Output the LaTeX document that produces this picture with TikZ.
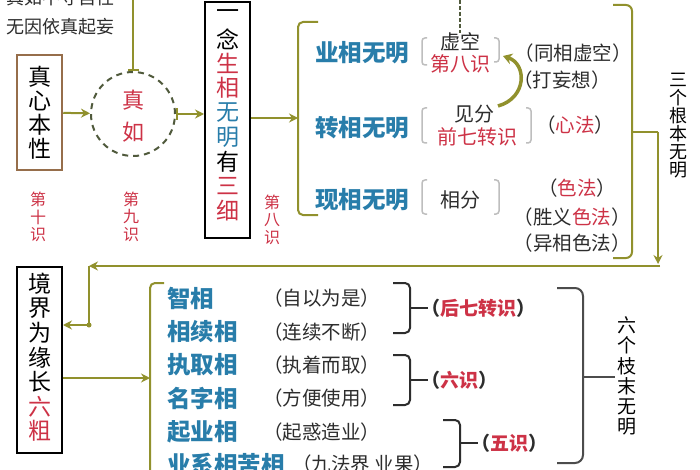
\documentclass[tikz,border=0pt]{standalone}
\usepackage{fontspec}
\setmainfont{Noto Sans CJK SC}
\usetikzlibrary{arrows.meta}
\definecolor{olv}{RGB}{145,145,45}
\definecolor{cred}{RGB}{205,50,70}
\definecolor{cblue}{RGB}{40,125,170}
\definecolor{dgray}{RGB}{45,45,45}
\definecolor{lgray}{RGB}{190,190,190}
\definecolor{brn}{RGB}{150,110,75}
\definecolor{cdash}{RGB}{80,90,60}
\newcommand{\R}[1]{\textcolor{cred}{#1}}
\newcommand{\B}[1]{\textcolor{cblue}{#1}}
\newlength\vsp
\newcommand{\vc}[1]{\hbox to 1em{\hss\vbox to \vsp{\vss\hbox{#1}\vss}\hss}}
\newcommand{\vs}[2]{\vsp=#1\relax\vbox{\offinterlineskip #2}}
\tikzset{
  big/.style={font=\fontsize{23}{24.4}\selectfont, inner sep=0pt, text=black},
  lbl/.style={font=\fontsize{23.5}{25}\selectfont\bfseries, text=cblue, inner sep=0pt},
  note/.style={font=\fontsize{19.5}{21}\selectfont, text=dgray, inner sep=0pt},
  mid/.style={font=\fontsize{20}{22}\selectfont, text=dgray, inner sep=0pt},
  shi/.style={font=\fontsize{16}{18}\selectfont, text=cred, inner sep=0pt},
  vt/.style={text=black, inner sep=0pt},
  oline/.style={draw=olv, line width=2pt},
  arr/.style={oline, -{Stealth[length=9pt,width=9pt]}},
  gbr/.style={draw=lgray, line width=1.5pt, rounded corners=3pt},
  kbr/.style={draw=dgray, line width=2pt, rounded corners=5pt},
  bx/.style={draw=black, line width=2pt, inner sep=0pt, minimum width=45pt},
}
\begin{document}
\begin{tikzpicture}[x=1pt,y=-1pt]
\useasboundingbox (0,0) rectangle (700,470);
\clip (0,0) rectangle (700,470);
\fill[white] (0,0) rectangle (700,470);

% top-left text
\node[note, font=\fontsize{18}{20}\selectfont, anchor=west] (t0) at (6,-2) {真如不守自性};
\node[note, font=\fontsize{18}{20}\selectfont, anchor=west] (t1) at (6,27) {无因依真起妄};

% left column
\node[draw=brn, line width=2.5pt, minimum width=45pt, minimum height=115pt, inner sep=0pt] (zx) at (39.5,112.5) {};
\node[big] (zxt) at (39.5,112.5) {\vs{24pt}{\vc{真}\vc{心}\vc{本}\vc{性}}};
\node[draw=cdash, line width=2pt, dash pattern=on 6pt off 5pt, circle, minimum size=84pt, inner sep=0pt] (zr) at (133,114) {};
\node[big, text=cred, font=\fontsize{22}{32}\selectfont] (zrt) at (133,116) {\vs{32pt}{\vc{真}\vc{如}}};
\coordinate (tp1) at (133,0);
\draw[oline, line width=1.8pt, -{Bar[width=11pt]}] (tp1) -- (zr.north);

\node[shi] (s10) at (38,217) {\vs{18pt}{\vc{第}\vc{十}\vc{识}}};
\node[shi] (s9) at (131,217) {\vs{18pt}{\vc{第}\vc{九}\vc{识}}};
\node[shi] (s8) at (272,220) {\vs{18pt}{\vc{第}\vc{八}\vc{识}}};

\node[bx, minimum height=236pt] (yn) at (227.5,120) {};
\node[big] (ynt) at (227.5,112.5) {\vs{24.4pt}{\vc{一}\vc{念}\vc{\R{生}}\vc{\R{相}}\vc{\B{无}}\vc{\B{明}}\vc{有}\vc{\R{三}}\vc{\R{细}}}};

\draw[arr] (zx) -- (zr);
\draw[oline, {Bar[width=12pt]}-{Stealth[length=9pt,width=9pt]}] (zr.east) -- (zr.east -| yn.west);

% first bracket
\coordinate (b1) at (298,118);
\draw[oline, rounded corners=5pt] (318,22) -- (298,22) -- (298,215) -- (318,215);
\draw[arr] (yn.east |- b1) -- (b1);

\node[lbl] (l1) at (362,53) {业相无明};
\node[lbl] (l2) at (362,128) {转相无明};
\node[lbl] (l3) at (362,200) {现相无明};

% gray brackets
\draw[gbr] (427,38) -- (422,38) -- (422,65) -- (427,65);
\draw[gbr] (494,38) -- (499,38) -- (499,62) -- (494,62);
\draw[gbr] (427,108) -- (422,108) -- (422,143) -- (427,143);
\draw[gbr] (526,108) -- (531,108) -- (531,143) -- (526,143);
\draw[gbr] (427,180) -- (422,180) -- (422,214) -- (427,214);
\draw[gbr] (494,180) -- (499,180) -- (499,214) -- (494,214);

\node[mid] (xk) at (460,42) {虚空};
\node[mid, text=cred] (d8) at (460,64) {第八识};
\node[mid] (jf) at (474,114) {见分};
\node[mid, text=cred] (q7) at (477,137) {前七转识};
\node[mid] (xf) at (460,200) {相分};

\coordinate (tp2) at (460,0);
\draw[draw=cdash, line width=2.5pt, dash pattern=on 4pt off 2pt] (tp2) -- (xk.north);

\coordinate (ca) at (498,106);
\coordinate (cb) at (503,56);
\draw[draw=olv, line width=3.5pt, -{Stealth[length=9pt,width=11pt]}] (ca) .. controls (527,98) and (527,64) .. (cb);

% right column notes
\node[note] (r1) at (573,53) {（同相虚空）};
\node[note] (r2) at (562,80) {（打妄想）};
\node[note] (r3) at (575,125) {（\R{心法}）};
\node[note] (r4) at (577,188) {（\R{色法}）};
\node[note] (r5) at (572,217) {（胜义\R{色法}）};
\node[note] (r6) at (572,243) {（异相色法）};

% right bracket
\draw[oline, rounded corners=6pt] (613,5) -- (632,5) -- (632,258) -- (613,258);
\coordinate (rb) at (658,132);
\coordinate (rc) at (658,264);
\draw[oline] (632,132) -- (rb);
\draw[arr] (rb) -- (rc);
\node[vt, font=\fontsize{18}{18}\selectfont] (sg) at (678,125) {\vs{18pt}{\vc{三}\vc{个}\vc{根}\vc{本}\vc{无}\vc{明}}};

% return line
\node[bx, minimum height=186pt] (jj) at (39.5,360) {};
\node[big] (jjt) at (40,357.5) {\vs{24.5pt}{\vc{境}\vc{界}\vc{为}\vc{缘}\vc{长}\vc{\R{六}}\vc{\R{粗}}}};
\coordinate (rd) at (660,266);
\coordinate (re) at (89,266);
\coordinate (rf) at (89,325);
\draw[arr] (rd) -- (re);
\draw[arr] (re) -- (rf) -- (rf -| jj.east);
\fill[olv] (rf) circle (2.5pt);

% bottom bracket
\coordinate (b2) at (150,378);
\draw[oline, rounded corners=5pt] (164,283) -- (150,283) -- (150,480);
\draw[arr] (b2 -| jj.east) -- (b2);

\node[lbl, anchor=west] (a1) at (167,298) {智相};
\node[lbl, anchor=west] (a2) at (167,332) {相续相};
\node[lbl, anchor=west] (a3) at (167,365) {执取相};
\node[lbl, anchor=west] (a4) at (167,398) {名字相};
\node[lbl, anchor=west] (a5) at (167,432) {起业相};
\node[lbl, anchor=west] (a6) at (167,464) {业系相苦相};

\node[note, anchor=west] (p1) at (263,298) {（自以为是）};
\node[note, anchor=west] (p2) at (263,332) {（连续不断）};
\node[note, anchor=west] (p3) at (263,365) {（执着而取）};
\node[note, anchor=west] (p4) at (263,398) {（方便使用）};
\node[note, anchor=west] (p5) at (263,432) {（起惑造业）};
\node[note, anchor=west] (p6) at (292,464) {（九法界\ 业果）};

% braces
\draw[kbr] (393,283) -- (410,283) -- (410,333) -- (393,333);
\draw[draw=dgray, line width=2pt] (410,308) -- (428,308);
\draw[kbr] (393,355) -- (410,355) -- (410,405) -- (393,405);
\draw[draw=dgray, line width=2pt] (410,380) -- (428,380);
\draw[kbr] (443,420) -- (460,420) -- (460,467) -- (443,467);
\draw[draw=dgray, line width=2pt] (460,443) -- (478,443);

\node[note, font=\fontsize{19}{20}\selectfont\bfseries] (h7) at (478,308) {（\R{后七转识}）};
\node[note, font=\fontsize{19}{20}\selectfont\bfseries] (h6) at (459,380) {（\R{六识}）};
\node[note, font=\fontsize{19}{20}\selectfont\bfseries] (h5) at (509,443) {（\R{五识}）};

\draw[draw=dgray!85, line width=2pt, rounded corners=8pt] (557,288) -- (583,288) -- (583,463) -- (557,463);
\draw[draw=dgray!85, line width=2pt] (583,377) -- (615,377);
\node[vt, font=\fontsize{19}{20.4}\selectfont] (lg) at (627,376) {\vs{20.4pt}{\vc{六}\vc{个}\vc{枝}\vc{末}\vc{无}\vc{明}}};
\end{tikzpicture}
\end{document}
